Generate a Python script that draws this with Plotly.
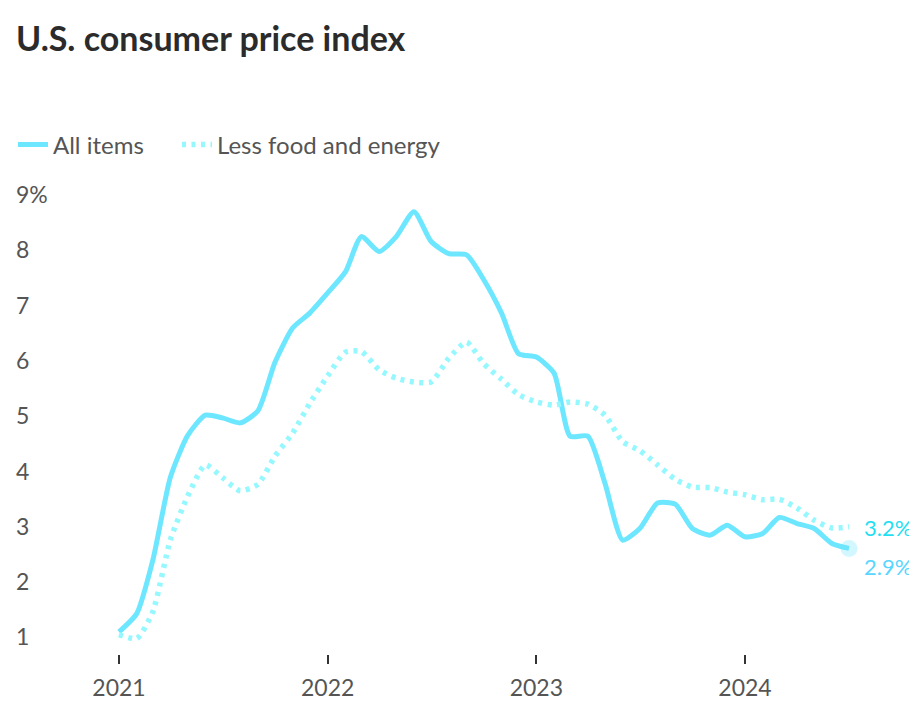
import plotly.graph_objects as go
import pandas as pd

months = ["2021-01-01", "2021-02-01", "2021-03-01", "2021-04-01", "2021-05-01", "2021-06-01",
          "2021-07-01", "2021-08-01", "2021-09-01", "2021-10-01", "2021-11-01", "2021-12-01",
          "2022-01-01", "2022-02-01", "2022-03-01", "2022-04-01", "2022-05-01", "2022-06-01",
          "2022-07-01", "2022-08-01", "2022-09-01", "2022-10-01", "2022-11-01", "2022-12-01",
          "2023-01-01", "2023-02-01", "2023-03-01", "2023-04-01", "2023-05-01", "2023-06-01",
          "2023-07-01", "2023-08-01", "2023-09-01", "2023-10-01", "2023-11-01", "2023-12-01",
          "2024-01-01", "2024-02-01", "2024-03-01", "2024-04-01", "2024-05-01", "2024-06-01",
          "2024-07-01"]

all_items = [1.1, 1.43, 2.39, 3.9, 4.65, 5.02, 4.97, 4.88, 5.1, 5.98, 6.6, 6.87,
             7.23, 7.61, 8.25, 7.98, 8.25, 8.7, 8.16, 7.94, 7.92, 7.47, 6.87, 6.13,
             6.07, 5.78, 4.64, 4.64, 3.79, 2.76, 2.97, 3.43, 3.41, 2.97, 2.85, 3.03,
             2.82, 2.88, 3.17, 3.06, 2.97, 2.70, 2.61]

core = [1.05, 0.98, 1.46, 2.77, 3.55, 4.12, 3.89, 3.65, 3.77, 4.28, 4.70, 5.24,
        5.73, 6.16, 6.17, 5.84, 5.69, 5.62, 5.62, 6.05, 6.34, 5.95, 5.67, 5.39,
        5.26, 5.2, 5.26, 5.22, 5.02, 4.54, 4.38, 4.12, 3.86, 3.72, 3.71, 3.63,
        3.58, 3.49, 3.5, 3.34, 3.12, 2.98, 3.0]

series_names = ["All items", "Less food and energy"]
end_labels = ["2.9%", "3.2%"]

y_tickvals = [1, 2, 3, 4, 5, 6, 7, 8, 9]
y_ticktext = ["1", "2", "3", "4", "5", "6", "7", "8", "9%"]
x_tickvals = ["2021-01-01", "2022-01-01", "2023-01-01", "2024-01-01"]
x_ticktext = ["2021", "2022", "2023", "2024"]

SOLID = "#6de6ff"
DOTTED = "#95f8ff"
LBL_SOLID = "#58d6ff"
LBL_DOTTED = "#1fe0f2"
TXT = "#555555"
FONT = "Lato, 'Open Sans', sans-serif"

# figure is drawn 8px in from the page corner (body margin)
W, H = 909, 715
ML, MR, MT = 5, 10, 165
Y_RANGE = [0.7, 9.4]
px_per_unit = 55.24
plot_h = (Y_RANGE[1] - Y_RANGE[0]) * px_per_unit
MB = H - MT - plot_h
plot_w = W - ML - MR

fig = go.Figure()
fig.add_trace(go.Scatter(
    x=months, y=all_items, name=series_names[0], mode="lines", legend="legend",
    line=dict(color=SOLID, width=5, shape="spline", smoothing=0.6),
    hoverinfo="skip"))
fig.add_trace(go.Scatter(
    x=months, y=core, name=series_names[1], mode="lines", legend="legend2",
    line=dict(color=DOTTED, width=5.5, shape="spline", smoothing=0.6, dash="4px,5.5px"),
    hoverinfo="skip"))
fig.add_trace(go.Scatter(
    x=[months[-1]], y=[all_items[-1]], mode="markers", showlegend=False,
    marker=dict(size=17, color="rgba(109,230,255,0.3)"), hoverinfo="skip"))

fig.add_annotation(x=months[-1], y=core[-1], text=end_labels[1], showarrow=False,
                   xanchor="left", yanchor="middle", xshift=13, yshift=-1,
                   font=dict(family=FONT, size=22, color=LBL_DOTTED))
fig.add_annotation(x=months[-1], y=all_items[-1], text=end_labels[0], showarrow=False,
                   xanchor="left", yanchor="middle", xshift=13, yshift=-18,
                   font=dict(family=FONT, size=22, color=LBL_SOLID))

# x range so that 2021-01-01 sits at x=111 and 2024-01-01 at x=737 (figure px)
px_per_day = (737 - 111) / (pd.Timestamp("2024-01-01") - pd.Timestamp("2021-01-01")).days
x0 = pd.Timestamp("2021-01-01") - pd.Timedelta(days=(111 - ML) / px_per_day)
x1 = pd.Timestamp("2024-01-01") + pd.Timedelta(days=(W - MR - 737) / px_per_day)

leg_y = 1 + (MT - 137) / plot_h

fig.update_layout(
    width=W, height=H,
    margin=dict(l=ML, r=MR, t=MT, b=MB, autoexpand=False),
    paper_bgcolor="white", plot_bgcolor="white",
    font=dict(family=FONT, color=TXT, size=23),
    title=dict(text="<b>U.S. consumer price index</b>", x=8 / W, xanchor="left",
               y=1 - 31 / H, yanchor="middle",
               font=dict(family=FONT, size=34, color="#2b2b2b")),
    legend=dict(orientation="h", x=0, xanchor="left", y=leg_y, yanchor="middle",
                font=dict(family=FONT, size=24, color=TXT), bgcolor="rgba(0,0,0,0)"),
    legend2=dict(orientation="h", x=(169 - ML) / plot_w, xanchor="left", y=leg_y,
                 yanchor="middle",
                 font=dict(family=FONT, size=24, color=TXT), bgcolor="rgba(0,0,0,0)"),
    xaxis=dict(type="date", range=[x0, x1], tickvals=x_tickvals, ticktext=x_ticktext,
               ticks="outside", ticklen=9, tickwidth=2, tickcolor="#333333",
               ticklabelstandoff=4,
               showgrid=False, zeroline=False, showline=False,
               tickfont=dict(family=FONT, size=23, color=TXT)),
    yaxis=dict(range=Y_RANGE, tickvals=y_tickvals, ticktext=y_ticktext,
               ticklabelposition="inside", ticks="", showgrid=False, zeroline=False,
               showline=False, tickfont=dict(family=FONT, size=23, color=TXT)),
)

fig.write_html("out.html")
